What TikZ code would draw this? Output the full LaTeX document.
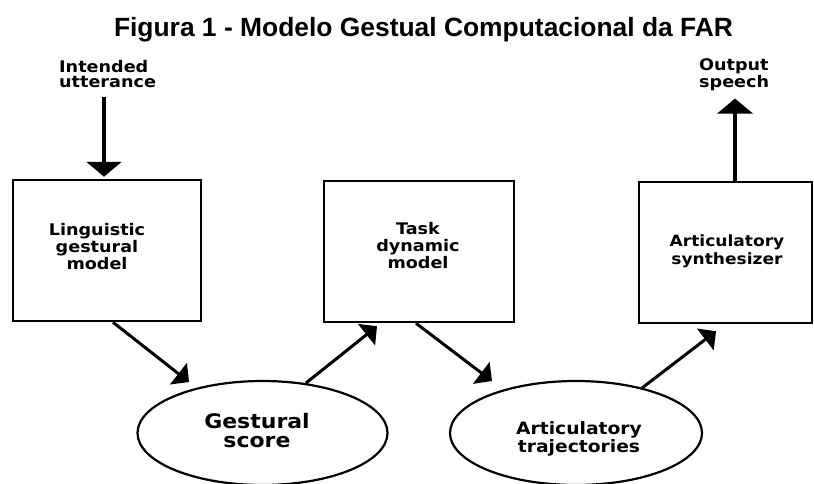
\documentclass[tikz,border=0pt]{standalone}
\usepackage{fontspec}
\usetikzlibrary{arrows.meta,shapes.geometric,calc}
\newfontfamily\titlefont{Liberation Sans}
\newfontfamily\labfont[FakeStretch=1.1]{DejaVu Sans}

\begin{document}
\begin{tikzpicture}[x=1pt,y=-1pt,
  box/.style={draw, line width=2.5pt, minimum height=141pt, inner sep=0pt},
  oval/.style={ellipse, draw, line width=2.2pt, minimum width=250pt, minimum height=104pt, inner sep=0pt},
  lbl/.style={inner sep=0pt, align=center, anchor=base},
  side/.style={inner sep=0pt, align=left, anchor=base west,
    font=\labfont\bfseries\fontsize{16}{15}\selectfont},
  link/.style={line width=3pt, -{Triangle[length=13.5pt,width=27pt]}},
  io/.style={line width=3.5pt, -{Triangle[length=15pt,width=35pt]}},
]
% page area
\fill[white] (0,0) rectangle (814,483);
\useasboundingbox (0,0) rectangle (814,483);

% title
\node[inner sep=0pt, anchor=base, font=\titlefont\bfseries\fontsize{26.4}{30}\selectfont]
  (title) at (423.5,36) {Figura 1 - Modelo Gestual Computacional da FAR};

% model blocks
\node[box, minimum width=188pt] (b1) at (107,250.5) {};
\node[box, minimum width=190pt] (b2) at (419,251.5) {};
\node[box, minimum width=173pt] (b3) at (725.5,252.5) {};

% intermediate representations
\node[oval] (gs) at (262.5,433) {};
\node[oval, minimum width=252pt] (traj) at (576,433) {};

% labels (anchored on the baseline of their last line)
\node[side] (iu) at (59,87) {Intended\\utterance};
\node[side, font=\labfont\bfseries\fontsize{16}{14}\selectfont] (os) at (699,87) {Output\\speech};
\node[lbl, font=\labfont\bfseries\fontsize{16}{17}\selectfont] (t1) at (97,269) {Linguistic\\gestural\\model};
\node[lbl, font=\labfont\bfseries\fontsize{16}{17}\selectfont] (t2) at (418,268) {Task\\dynamic\\model};
\node[lbl, font=\labfont\bfseries\fontsize{15.5}{18}\selectfont] (t3) at (727,264) {Articulatory\\synthesizer};
\node[lbl, font=\labfont\bfseries\fontsize{20}{19}\selectfont] (t4) at (257,447) {Gestural\\score};
\node[lbl, font=\labfont\bfseries\fontsize{17}{15}\selectfont] (t5) at (579,452) {Articulatory\\trajectories};

% input and output arrows
\coordinate (inTip) at ([xshift=-3pt,yshift=2pt]b1.north);
\draw[io, shorten <=10pt] (inTip |- iu.south) -- (inTip);
\coordinate (outFoot) at ([xshift=9.5pt]b3.north);
\draw[io, shorten >=8pt] (outFoot) -- (outFoot |- os.south);

% flow between blocks and representations
\draw[link] ([xshift=6pt]b1.south) -- ([xshift=-73.5pt,yshift=51pt]gs.center);
\draw[link] ([xshift=43.5pt,yshift=50pt]gs.center) -- ([xshift=-42pt,yshift=-3pt]b2.south);
\draw[link] ([xshift=-3pt]b2.south) -- ([xshift=-84pt,yshift=52pt]traj.center);
\draw[link] ([xshift=66pt,yshift=45pt]traj.center) -- ([xshift=-9.5pt,yshift=-7pt]b3.south);
\end{tikzpicture}
\end{document}
